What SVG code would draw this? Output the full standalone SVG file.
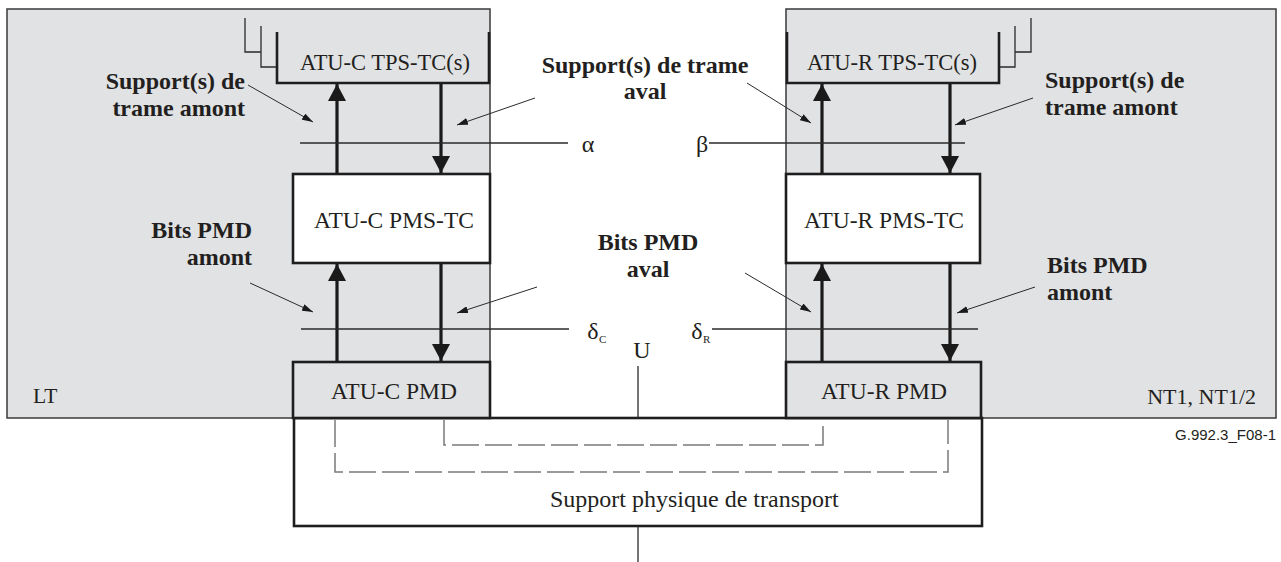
<svg xmlns="http://www.w3.org/2000/svg" width="1281" height="562" viewBox="0 0 1281 562">
<style>
.panel{fill:#e1e2e4;stroke:#3a3a3a;stroke-width:1.5}
.box{stroke:#1e1e1e;stroke-width:2.6}
.white{fill:#ffffff}
.grey{fill:#e1e2e4}
.thick{fill:none;stroke:#1e1e1e;stroke-width:2.6}
.thin{fill:none;stroke:#2a2a2a;stroke-width:1.3}
.flow{fill:none;stroke:#1a1a1a;stroke-width:3.2;marker-end:url(#big)}
.ptr{fill:none;stroke:#2a2a2a;stroke-width:1;marker-end:url(#small)}
.dash{fill:none;stroke:#7a7a7a;stroke-width:1.5;stroke-dasharray:27 6}
.t{font-family:"Liberation Serif","Times New Roman",serif;font-size:23px;fill:#231f20}
.b{font-family:"Liberation Serif","Times New Roman",serif;font-size:24px;font-weight:bold;fill:#231f20}
.g{font-family:"Liberation Serif","Times New Roman",serif;font-size:24px;fill:#231f20}
.sub{font-family:"Liberation Serif","Times New Roman",serif;font-size:11px;fill:#231f20}
.id{font-family:"Liberation Sans",Arial,sans-serif;font-size:15px;fill:#231f20}
</style>
<defs>
<marker id="big" viewBox="0 0 17 18" refX="17" refY="9" markerWidth="17" markerHeight="18" markerUnits="userSpaceOnUse" orient="auto"><path d="M0,0 L17,9 L0,18 z" fill="#1a1a1a"/></marker>
<marker id="small" viewBox="0 0 11 7" refX="11" refY="3.5" markerWidth="11" markerHeight="7" markerUnits="userSpaceOnUse" orient="auto"><path d="M0,0 L11,3.5 L0,7 z" fill="#1a1a1a"/></marker>
</defs>

<g id="panel-lt">
<rect class="panel" x="7" y="9" width="483" height="409"/>
<text class="t" x="33" y="403" style="font-size:21.5px">LT</text>
</g>
<g id="panel-nt">
<rect class="panel" x="786" y="9" width="490" height="409"/>
<text class="t" x="1256" y="404" text-anchor="end" style="font-size:22px">NT1, NT1/2</text>
</g>

<g id="support-physique">
<rect class="box white" x="294" y="418" width="688" height="108"/>
<text class="t" x="550" y="507" style="font-size:24px">Support physique de transport</text>
</g>

<g id="atu-c-tps-tc">
<path class="thin" d="M245,18 V52 H261 M261,26 V67 H277"/>
<path class="thick" d="M277,32 V83 H489 V32"/>
<text class="t" x="385" y="70" text-anchor="middle" style="font-size:22.5px">ATU-C TPS-TC(s)</text>
</g>
<g id="atu-c-pms-tc">
<rect class="box white" x="293" y="174" width="197" height="89"/>
<text class="t" x="394" y="228" text-anchor="middle" style="font-size:23.5px">ATU-C PMS-TC</text>
</g>
<g id="atu-c-pmd">
<rect class="box grey" x="293" y="362" width="197" height="56"/>
<text class="t" x="394" y="399" text-anchor="middle" style="font-size:23.5px">ATU-C PMD</text>
</g>

<g id="atu-r-tps-tc">
<path class="thin" d="M1031,18 V52 H1015 M1015,26 V67 H999"/>
<path class="thick" d="M999,32 V83 H787 V32"/>
<text class="t" x="892" y="70" text-anchor="middle" style="font-size:22.5px">ATU-R TPS-TC(s)</text>
</g>
<g id="atu-r-pms-tc">
<rect class="box white" x="786" y="174" width="194" height="89"/>
<text class="t" x="884" y="228" text-anchor="middle" style="font-size:23.5px">ATU-R PMS-TC</text>
</g>
<g id="atu-r-pmd">
<rect class="box grey" x="786" y="362" width="195" height="56"/>
<text class="t" x="884" y="399" text-anchor="middle" style="font-size:23.5px">ATU-R PMD</text>
</g>

<g id="connectors">
<path class="flow" d="M337,174 V84"/>
<path class="flow" d="M441,84 V173"/>
<path class="flow" d="M337,362 V264"/>
<path class="flow" d="M441,264 V361"/>
<path class="flow" d="M822,174 V84"/>
<path class="flow" d="M950,84 V173"/>
<path class="flow" d="M822,362 V264"/>
<path class="flow" d="M950,264 V361"/>

<path class="thin" d="M300,143 H568"/>
<path class="thin" d="M709,143 H965"/>
<path class="thin" d="M301,329 H569"/>
<path class="thin" d="M712,329 H978"/>
<path class="thin" d="M638,366 V418"/>
<path class="thin" d="M638,526 V562"/>

<path class="dash" d="M444,420 V445 H823 V420"/>
<path class="dash" d="M335,420 V472 H948 V420"/>

<path class="ptr" d="M248,85 L313,122"/>
<path class="ptr" d="M535,98 L457,125"/>
<path class="ptr" d="M747,83 L811,123"/>
<path class="ptr" d="M1033,98 L955,125"/>
<path class="ptr" d="M250,283 L313,312"/>
<path class="ptr" d="M537,287 L457,313"/>
<path class="ptr" d="M745,273 L811,312"/>
<path class="ptr" d="M1035,287 L957,313"/>
</g>

<g id="labels">
<text class="b" x="245" text-anchor="end"><tspan x="245" y="89">Support(s) de</tspan><tspan x="245" y="116">trame amont</tspan></text>
<text class="b" x="645" text-anchor="middle"><tspan x="645" y="73">Support(s) de trame</tspan><tspan x="645" y="99">aval</tspan></text>
<text class="b" x="1045"><tspan x="1045" y="88">Support(s) de</tspan><tspan x="1045" y="115">trame amont</tspan></text>
<text class="b" x="252" text-anchor="end"><tspan x="252" y="238">Bits PMD</tspan><tspan x="252" y="265">amont</tspan></text>
<text class="b" x="648" text-anchor="middle"><tspan x="648" y="250">Bits PMD</tspan><tspan x="648" y="277">aval</tspan></text>
<text class="b" x="1047"><tspan x="1047" y="273">Bits PMD</tspan><tspan x="1047" y="300">amont</tspan></text>
<text class="g" x="588" y="152" text-anchor="middle">α</text>
<text class="g" x="702" y="152" text-anchor="middle">β</text>
<text class="g" x="593" y="339" text-anchor="middle">δ</text><text class="sub" x="599" y="343">C</text>
<text class="g" x="697" y="339" text-anchor="middle">δ</text><text class="sub" x="703" y="343">R</text>
<text class="g" x="642" y="358" text-anchor="middle">U</text>
<text class="id" x="1276" y="440" text-anchor="end">G.992.3_F08-1</text>
</g>
</svg>
